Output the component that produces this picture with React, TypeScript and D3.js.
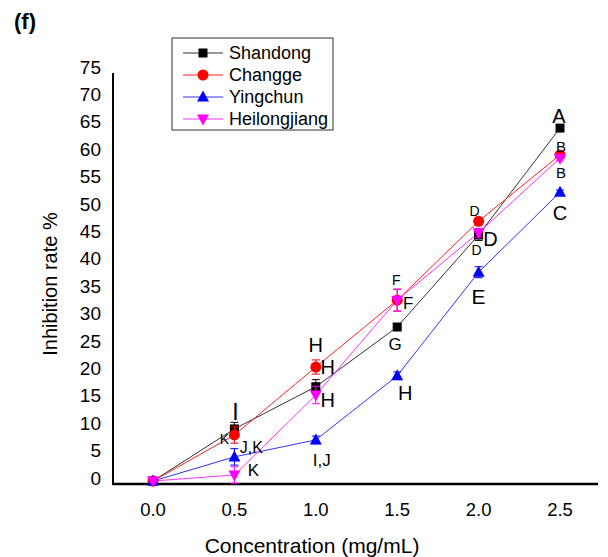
import React from "react";
import * as d3 from "d3";

// concentration (mg/mL)
const concentrations = [0, 0.5, 1.0, 1.5, 2.0, 2.5];

const seriesNames = ["Shandong", "Changge", "Yingchun", "Heilongjiang"];

// inhibition rate %
const shandong = [0, 9.5, 17.2, 28.1, 44.9, 64.4];
const changge = [0, 8.4, 20.8, 33.0, 47.4, 59.5];
const yingchun = [0, 4.4, 7.5, 19.2, 38.1, 52.7];
const heilongjiang = [0, 1.1, 15.7, 33.0, 45.3, 58.9];

// error (+/-)
const shandongErr = [0.2, 1.2, 1.3, 0.4, 1.0, 0.4];
const changgeErr = [0.2, 1.5, 1.3, 2.0, 0.4, 0.4];
const yingchunErr = [0.2, 1.5, 0.7, 0.7, 1.0, 0.4];
const heilongjiangErr = [0.2, 1.5, 1.6, 2.0, 0.8, 0.5];

const yTicks = [0, 5, 10, 15, 20, 25, 30, 35, 40, 45, 50, 55, 60, 65, 70, 75];
const xTicks = [0.0, 0.5, 1.0, 1.5, 2.0, 2.5];

// significance letters: [series index, point index, text]
const letters: [number, number, string][] = [
  [0, 1, "I"], [0, 1, "K"], [2, 1, "J,K"], [3, 1, "K"],
  [1, 2, "H"], [1, 2, "H"], [3, 2, "H"], [2, 2, "I,J"],
  [1, 3, "F"], [3, 3, "F"], [0, 3, "G"], [2, 3, "H"],
  [1, 4, "D"], [3, 4, "D"], [0, 4, "D"], [2, 4, "E"],
  [0, 5, "A"], [1, 5, "B"], [3, 5, "B"], [2, 5, "C"],
];
// placement of each letter relative to its point: [dx, dy, font size]
const letterPlacement: [number, number, number][] = [
  [1, -17, 23], [-10, 10, 14], [17, -9, 16], [19, -4, 17],
  [0, -22, 20], [12, 0, 20], [12, 5, 20], [6, 21, 17],
  [-1, -20, 14], [11, 3, 17], [-2, 17, 17], [8, 17, 20],
  [-4, -10, 14], [12, 6, 20], [-2, 15, 14], [0, 24, 21],
  [-1, -12, 20], [1, -8, 15], [1, 14, 15], [0, 21, 20],
];

const values = [shandong, changge, yingchun, heilongjiang];
const errors = [shandongErr, changgeErr, yingchunErr, heilongjiangErr];
const colors = ["#000000", "#ff0000", "#0000ff", "#ff00ff"];
const lineColors = ["#333333", "#ff2020", "#3030ff", "#ff30ff"];
const shapes = ["square", "circle", "up", "down"];

const font = "Arial, 'Liberation Sans', sans-serif";

function Marker({ shape, x, y, color }: { shape: string; x: number; y: number; color: string }) {
  if (shape === "square") return <rect x={x - 4.5} y={y - 4.5} width={9} height={9} fill={color} />;
  if (shape === "circle") return <circle cx={x} cy={y} r={5.5} fill={color} />;
  if (shape === "up")
    return <path d={`M${x},${y - 6.5} L${x + 6},${y + 4.5} L${x - 6},${y + 4.5} Z`} fill={color} />;
  return <path d={`M${x},${y + 6.5} L${x + 6},${y - 4.5} L${x - 6},${y - 4.5} Z`} fill={color} />;
}

export default function App() {
  const width = 608;
  const height = 557;
  const x = d3.scaleLinear().domain([0, 2.5]).range([153, 560]);
  const y = d3.scaleLinear().domain([0, 75]).range([481, 70]);
  const axisLeft = 113;
  const axisBottom = 484;

  const line = d3
    .line<number>()
    .x((_, i) => x(concentrations[i]))
    .y((d) => y(d));

  return (
    <svg width={width} height={height} style={{ position: "absolute", left: 0, top: 0, background: "#fff" }}>
      <rect width={width} height={height} fill="#ffffff" />
      <text x={14} y={29} fontFamily={font} fontWeight="bold" fontSize={22}>(f)</text>

      {/* axes */}
      <line x1={axisLeft} x2={axisLeft} y1={73} y2={axisBottom + 1} stroke="#000" strokeWidth={2} />
      <line x1={axisLeft} x2={598} y1={axisBottom} y2={axisBottom} stroke="#000" strokeWidth={2.5} />
      {yTicks.map((t) => (
        <text key={t} x={101} y={y(t) - 3} textAnchor="end" dominantBaseline="central" fontFamily={font} fontSize={19}>
          {t}
        </text>
      ))}
      {xTicks.map((t) => (
        <text key={t} x={x(t)} y={509} textAnchor="middle" dominantBaseline="central" fontFamily={font} fontSize={18.5}>
          {d3.format(".1f")(t)}
        </text>
      ))}
      <text x={312} y={545} textAnchor="middle" dominantBaseline="central" fontFamily={font} fontSize={21}>
        Concentration (mg/mL)
      </text>
      <text
        transform={`translate(50,284) rotate(-90)`}
        textAnchor="middle"
        dominantBaseline="central"
        fontFamily={font}
        fontSize={20}
      >
        Inhibition rate %
      </text>

      {/* lines */}
      {values.map((v, s) => (
        <path key={s} d={line(v) || ""} fill="none" stroke={lineColors[s]} strokeWidth={1} />
      ))}

      {/* error bars + markers */}
      {values.map((v, s) => (
        <g key={s}>
          {v.map((d, i) => {
            const cx = x(concentrations[i]);
            const e = errors[s][i];
            return (
              <g key={i} stroke={colors[s]} strokeWidth={1}>
                <line x1={cx} x2={cx} y1={y(d - e)} y2={y(d + e)} />
                <line x1={cx - 4} x2={cx + 4} y1={y(d - e)} y2={y(d - e)} />
                <line x1={cx - 4} x2={cx + 4} y1={y(d + e)} y2={y(d + e)} />
              </g>
            );
          })}
          {v.map((d, i) => (
            <Marker key={i} shape={shapes[s]} x={x(concentrations[i])} y={y(d)} color={colors[s]} />
          ))}
        </g>
      ))}

      {/* letters */}
      {letters.map(([s, i, t], k) => {
        const [dx, dy, fs] = letterPlacement[k];
        return (
          <text
            key={k}
            x={x(concentrations[i]) + dx}
            y={y(values[s][i]) + dy}
            textAnchor="middle"
            dominantBaseline="central"
            fontFamily={font}
            fontSize={fs}
          >
            {t}
          </text>
        );
      })}

      {/* legend */}
      <rect x={172} y={38} width={161} height={92} fill="#fff" stroke="#333" strokeWidth={1} />
      {seriesNames.map((n, s) => {
        const ly = 53 + s * 22;
        return (
          <g key={n}>
            <line x1={183} x2={223} y1={ly} y2={ly} stroke={lineColors[s]} strokeWidth={1} />
            <Marker shape={shapes[s]} x={203} y={ly} color={colors[s]} />
            <text x={229} y={ly} dominantBaseline="central" fontFamily={font} fontSize={18}>
              {n}
            </text>
          </g>
        );
      })}
    </svg>
  );
}
